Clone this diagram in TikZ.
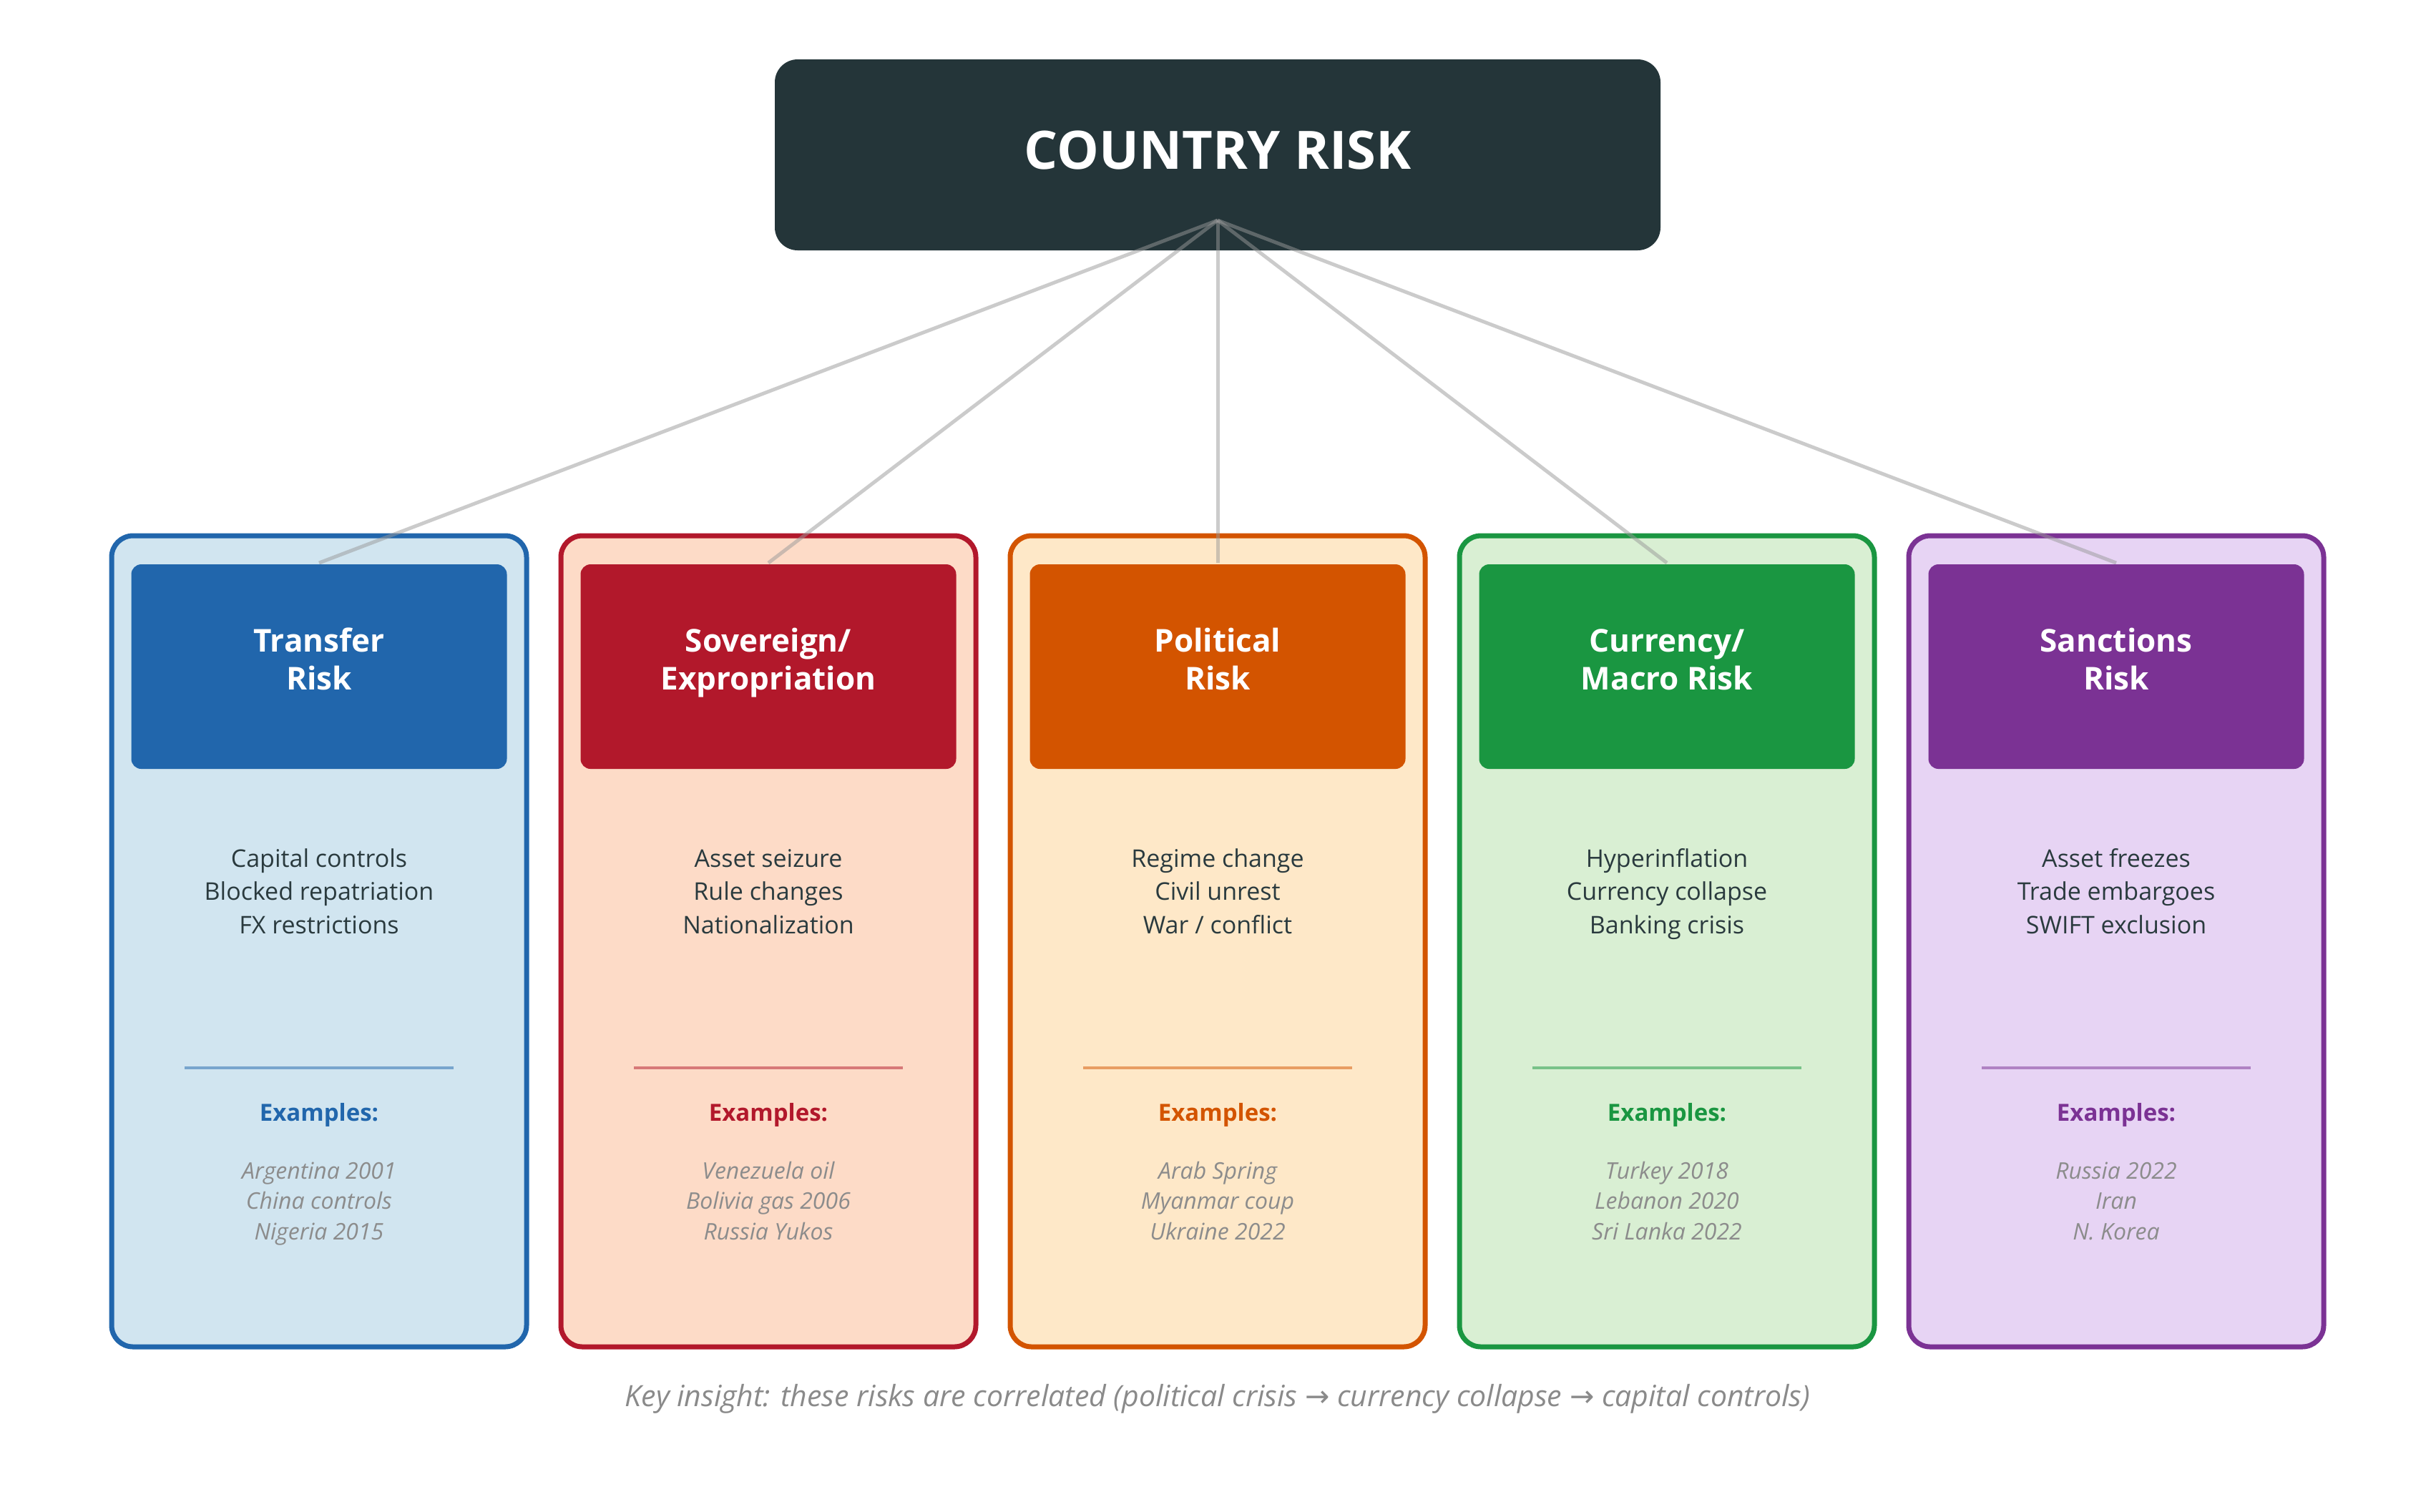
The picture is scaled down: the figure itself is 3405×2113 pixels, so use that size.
\documentclass[tikz,border=0pt]{standalone}
\usepackage{fontspec}
\setmainfont{Open Sans}
\newfontfamily\arrowfont{DejaVu Sans}
\definecolor{titlebg}{HTML}{243539}
\definecolor{bodycol}{HTML}{2A3A3E}
\definecolor{exgray}{HTML}{8C8C8C}
\definecolor{keygray}{HTML}{8A8A8A}
\definecolor{conncol}{HTML}{999999}
\definecolor{trmain}{HTML}{2166AC}\definecolor{trfill}{HTML}{D1E5F0}
\definecolor{svmain}{HTML}{B2182B}\definecolor{svfill}{HTML}{FDDBC7}
\definecolor{pomain}{HTML}{D35400}\definecolor{pofill}{HTML}{FEE8C8}
\definecolor{cumain}{HTML}{1A9641}\definecolor{cufill}{HTML}{D9EFD3}
\definecolor{samain}{HTML}{7B3294}\definecolor{safill}{HTML}{E7D4F4}
\tikzset{
  titlebox/.style={rectangle, rounded corners=8pt, fill=titlebg, minimum width=309.5pt, minimum height=66.75pt, inner sep=0pt},
  titletext/.style={text=white, font=\bfseries\fontsize{18.5pt}{22pt}\selectfont, anchor=base, inner sep=0pt},
  outerbox/.style={rectangle, rounded corners=7.5pt, line width=1.75pt, minimum width=145pt, minimum height=283.5pt, inner sep=0pt},
  headbox/.style={rectangle, rounded corners=3.5pt, minimum width=131.25pt, minimum height=71.5pt, inner sep=0pt},
  headtext/.style={text=white, font=\bfseries\fontsize{11pt}{13.25pt}\selectfont, align=center, anchor=base, inner sep=0pt},
  bodytext/.style={text=bodycol, font=\fontsize{8.5pt}{11.6pt}\selectfont, align=center, anchor=base, inner sep=0pt},
  exlabel/.style={font=\bfseries\fontsize{8.25pt}{10pt}\selectfont, anchor=base, inner sep=0pt},
  extext/.style={text=exgray, font=\itshape\fontsize{8pt}{10.6pt}\selectfont, align=center, anchor=base, inner sep=0pt},
  keytext/.style={text=keygray, font=\itshape\fontsize{10.25pt}{12pt}\selectfont, anchor=base, inner sep=0pt},
  conn/.style={draw=conncol, line width=1.25pt, draw opacity=0.5},
  sepline/.style={line width=1.1pt, draw opacity=0.5}
}
% multi-line nodes: the base anchor sits on the baseline of the last line
\newcommand\riskcol[7]{%
  \node[outerbox, draw=#3, fill=#4] (#1box) at (#2,1316) {};
  \coordinate (#1top) at (#2,787);
  \draw[conn] (hub) -- (#1top);
  \node[headbox, fill=#3] (#1head) at (#2,932) {};
  \node[headtext] (#1title) at (#2,964) {#5};
  \node[bodytext] (#1body) at (#2,1305) {#6};
  \draw[sepline, draw=#3] (#2-188,1493) -- (#2+188,1493);
  \node[exlabel, text=#3] (#1exlab) at (#2,1567) {Examples:};
  \node[extext] (#1ex) at (#2,1733) {#7};
}
\begin{document}
\begin{tikzpicture}[x=0.25pt, y=-0.25pt]
\useasboundingbox[fill=white] (0,0) rectangle (3405,2113);
\node[titlebox] (title) at (1702,216.5) {};
\node[titletext] (titlelabel) at (1702,236) {COUNTRY RISK};
\coordinate (hub) at (1702,308);
\riskcol{tr}{446}{trmain}{trfill}{Transfer\\Risk}{Capital controls\\Blocked repatriation\\FX restrictions}{Argentina 2001\\China controls\\Nigeria 2015}
\riskcol{sv}{1074}{svmain}{svfill}{Sovereign/\\Expropriation}{Asset seizure\\Rule changes\\Nationalization}{Venezuela oil\\Bolivia gas 2006\\Russia Yukos}
\riskcol{po}{1702}{pomain}{pofill}{Political\\Risk}{Regime change\\Civil unrest\\War / conflict}{Arab Spring\\Myanmar coup\\Ukraine 2022}
\riskcol{cu}{2330}{cumain}{cufill}{Currency/\\Macro Risk}{Hyperinflation\\Currency collapse\\Banking crisis}{Turkey 2018\\Lebanon 2020\\Sri Lanka 2022}
\riskcol{sa}{2958}{samain}{safill}{Sanctions\\Risk}{Asset freezes\\Trade embargoes\\SWIFT exclusion}{Russia 2022\\Iran\\N. Korea}
\node[keytext] (insight) at (1702,1966) {Key insight: these risks are correlated (political crisis {\arrowfont\upshape →} currency collapse {\arrowfont\upshape →} capital controls)};
\end{tikzpicture}
\end{document}
